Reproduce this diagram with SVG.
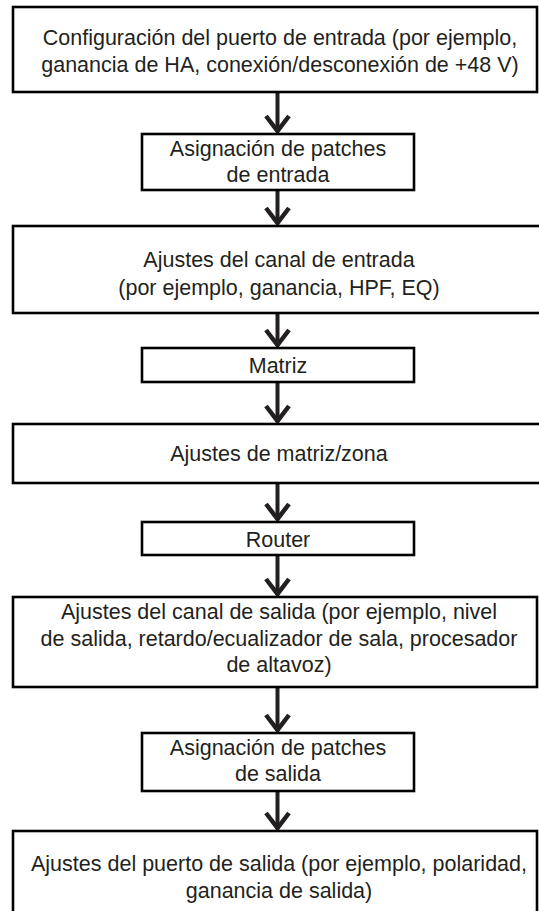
<svg xmlns="http://www.w3.org/2000/svg" width="539" height="911" viewBox="0 0 539 911">
<style>
.box{fill:#fff;stroke:#000;stroke-width:2.6}
.t{font-family:"Liberation Sans",Arial,Helvetica,sans-serif;font-size:21.5px;fill:#231f20;text-anchor:middle}
.shaft{stroke:#231f20;stroke-width:4;fill:none}
.head{stroke:#231f20;stroke-width:4.5;fill:none;stroke-linejoin:miter;stroke-miterlimit:10}
</style>
<rect width="539" height="911" fill="#fff"/>
<g id="connectors">
<g><line class="shaft" x1="277.5" y1="92" x2="277.5" y2="132"/><polyline class="head" points="266,116 277.5,131 289,116"/></g>
<g><line class="shaft" x1="277.5" y1="190" x2="277.5" y2="224"/><polyline class="head" points="266,208 277.5,223 289,208"/></g>
<g><line class="shaft" x1="277.5" y1="313" x2="277.5" y2="346"/><polyline class="head" points="266,330 277.5,345 289,330"/></g>
<g><line class="shaft" x1="277.5" y1="382" x2="277.5" y2="422"/><polyline class="head" points="266,406 277.5,421 289,406"/></g>
<g><line class="shaft" x1="277.5" y1="483" x2="277.5" y2="520"/><polyline class="head" points="266,504 277.5,519 289,504"/></g>
<g><line class="shaft" x1="277.5" y1="555" x2="277.5" y2="595"/><polyline class="head" points="266,579 277.5,594 289,579"/></g>
<g><line class="shaft" x1="277.5" y1="687" x2="277.5" y2="731"/><polyline class="head" points="266,715 277.5,730 289,715"/></g>
<g><line class="shaft" x1="277.5" y1="791" x2="277.5" y2="829"/><polyline class="head" points="266,813 277.5,828 289,813"/></g>
</g>
<g id="n1"><rect class="box" x="13" y="7" width="524" height="85"/>
<text class="t" x="280" y="45">Configuración del puerto de entrada (por ejemplo,</text>
<text class="t" x="280" y="72">ganancia de HA, conexión/desconexión de +48 V)</text></g>
<g id="n2"><rect class="box" x="142" y="134" width="272" height="56"/>
<text class="t" x="278" y="156">Asignación de patches</text>
<text class="t" x="278" y="182">de entrada</text></g>
<g id="n3"><rect class="box" x="13" y="226" width="540" height="87"/>
<text class="t" x="279" y="267">Ajustes del canal de entrada</text>
<text class="t" x="279" y="295">(por ejemplo, ganancia, HPF, EQ)</text></g>
<g id="n4"><rect class="box" x="142" y="348" width="272" height="34"/>
<text class="t" x="278" y="373">Matriz</text></g>
<g id="n5"><rect class="box" x="13" y="424" width="540" height="59"/>
<text class="t" x="279" y="461">Ajustes de matriz/zona</text></g>
<g id="n6"><rect class="box" x="142" y="522" width="272" height="33"/>
<text class="t" x="278" y="546.5">Router</text></g>
<g id="n7"><rect class="box" x="13" y="597" width="524" height="90"/>
<text class="t" x="279" y="619">Ajustes del canal de salida (por ejemplo, nivel</text>
<text class="t" x="279" y="645.5">de salida, retardo/ecualizador de sala, procesador</text>
<text class="t" x="279" y="672">de altavoz)</text></g>
<g id="n8"><rect class="box" x="142" y="733" width="272" height="58"/>
<text class="t" x="278" y="755">Asignación de patches</text>
<text class="t" x="278" y="781">de salida</text></g>
<g id="n9"><rect class="box" x="13" y="831" width="524" height="100"/>
<text class="t" x="279" y="871">Ajustes del puerto de salida (por ejemplo, polaridad,</text>
<text class="t" x="279" y="898">ganancia de salida)</text></g>
</svg>
